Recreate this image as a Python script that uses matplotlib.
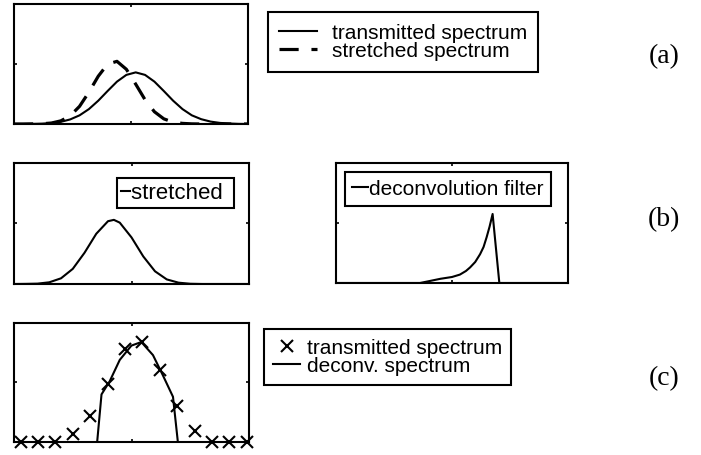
import numpy as np
import matplotlib
matplotlib.use('agg')
import matplotlib.pyplot as plt

plt.rcParams['font.family'] = ['Liberation Sans', 'DejaVu Sans']

# (a) transmitted and stretched spectra
x_a = [0.00, 0.04, 0.08, 0.12, 0.16, 0.20, 0.24, 0.28, 0.32, 0.36, 0.40, 0.44, 0.48,
       0.52, 0.56, 0.60, 0.64, 0.68, 0.72, 0.76, 0.80, 0.84, 0.88, 0.92, 0.96, 1.00]
transmitted_a = [0.000, 0.000, 0.001, 0.003, 0.008, 0.018, 0.038, 0.072, 0.124, 0.194,
                 0.275, 0.353, 0.409, 0.430, 0.409, 0.353, 0.275, 0.194, 0.124, 0.072,
                 0.040, 0.020, 0.009, 0.004, 0.001, 0.000]
stretched_a = [0.000, 0.000, 0.001, 0.002, 0.008, 0.026, 0.068, 0.147, 0.265, 0.398,
               0.499, 0.522, 0.456, 0.332, 0.202, 0.102, 0.043, 0.015, 0.005, 0.001,
               0.000, 0.000, 0.000, 0.000, 0.000, 0.000]

# (b) stretched spectrum and deconvolution filter
x_b = [0.00, 0.05, 0.10, 0.15, 0.20, 0.25, 0.30, 0.35, 0.40, 0.425, 0.45, 0.50,
       0.55, 0.60, 0.65, 0.70, 0.75, 0.80, 0.85, 0.90, 0.95, 1.00]
stretched_b = [0.000, 0.001, 0.003, 0.014, 0.047, 0.125, 0.258, 0.415, 0.519, 0.530, 0.507,
               0.385, 0.228, 0.105, 0.038, 0.011, 0.002, 0.000, 0.000, 0.000, 0.000, 0.000]
filter_x = [0.00, 0.362, 0.40, 0.45, 0.50, 0.534, 0.56, 0.578, 0.60, 0.621, 0.636,
            0.649, 0.662, 0.675, 0.704, 1.00]
filter_y = [0.000, 0.000, 0.015, 0.035, 0.050, 0.070, 0.100, 0.130, 0.175, 0.240, 0.300,
            0.380, 0.470, 0.575, 0.000, 0.000]

# (c) transmitted samples and deconvolved spectrum
sample_idx = [1, 2, 3, 4, 5, 6, 7, 8, 9, 10, 11, 12, 13, 14]
transmitted_c = [0.0, 0.0, 0.0, 0.067, 0.22, 0.487, 0.78, 0.843, 0.605, 0.30, 0.095, 0.0, 0.0, 0.0]
deconv_x = [5.40, 5.65, 6.12, 6.70, 7.37, 7.94, 8.61, 9.18, 9.76, 10.04]
deconv_y = [0.0, 0.40, 0.51, 0.69, 0.81, 0.84, 0.73, 0.56, 0.38, 0.0]

fig = plt.figure(figsize=(7.01, 4.56), dpi=100)


def style_axes(ax, xlim):
    ax.set_xlim(*xlim)
    ax.set_ylim(0, 1)
    ax.set_xticks([(xlim[0] + xlim[1]) / 2])
    ax.set_yticks([0.5])
    ax.set_xticklabels([])
    ax.set_yticklabels([])
    ax.tick_params(direction='in', top=True, right=True, length=2.5, width=1.2)
    for sp in ax.spines.values():
        sp.set_linewidth(1.5)


def box_legend(ax, anchor, **kw):
    leg = ax.legend(loc='upper left', bbox_to_anchor=anchor, bbox_transform=fig.transFigure,
                    borderaxespad=0, fancybox=False, framealpha=1, edgecolor='black',
                    **kw)
    leg.get_frame().set_linewidth(1.5)
    return leg


ax_a = fig.add_axes([0.020, 0.7259, 0.3338, 0.2632])
ax_a.plot(x_a, transmitted_a, color='black', lw=1.5, label='transmitted spectrum')
ax_a.plot(x_a, stretched_a, color='black', lw=2.3, dashes=(6, 4), label='stretched spectrum')
style_axes(ax_a, (0, 1))
box_legend(ax_a, (268 / 701, 1 - 13 / 456), fontsize=15, handlelength=1.8,
           handletextpad=0.7, labelspacing=-0.05, borderpad=0.55)

ax_b1 = fig.add_axes([0.020, 0.375, 0.3352, 0.2654])
ax_b1.plot(x_b, stretched_b, color='black', lw=1.5, label='stretched ')
style_axes(ax_b1, (0, 1))
box_legend(ax_b1, (117 / 701, 1 - 179 / 456), fontsize=16, handlelength=0.4,
           handletextpad=0.05, borderpad=0.2)

ax_b2 = fig.add_axes([0.4793, 0.3772, 0.331, 0.2632])
ax_b2.plot(filter_x, filter_y, color='black', lw=1.5, label='deconvolution filter')
style_axes(ax_b2, (0, 1))
box_legend(ax_b2, (345 / 701, 1 - 173 / 456), fontsize=15, handlelength=0.75,
           handletextpad=0.05, borderpad=0.35)

ax_c = fig.add_axes([0.020, 0.0285, 0.3352, 0.261])
ax_c.plot(sample_idx, transmitted_c, linestyle='none', marker='x', ms=9, mew=1.5,
          color='black', clip_on=False, label='transmitted spectrum')
ax_c.plot(deconv_x, deconv_y, color='black', lw=1.5, label='deconv. spectrum')
style_axes(ax_c, (0.62, 14.13))
box_legend(ax_c, (264 / 701, 1 - 330 / 456), fontsize=15, handlelength=1.3,
           handletextpad=0.3, labelspacing=-0.05, borderpad=0.45, numpoints=1)

for label, y in [('(a)', 57), ('(b)', 220), ('(c)', 379)]:
    fig.text(664 / 701, 1 - y / 456, label, ha='center', va='center',
             family='Liberation Serif', fontsize=20)

fig.savefig('out.png', dpi=100)
